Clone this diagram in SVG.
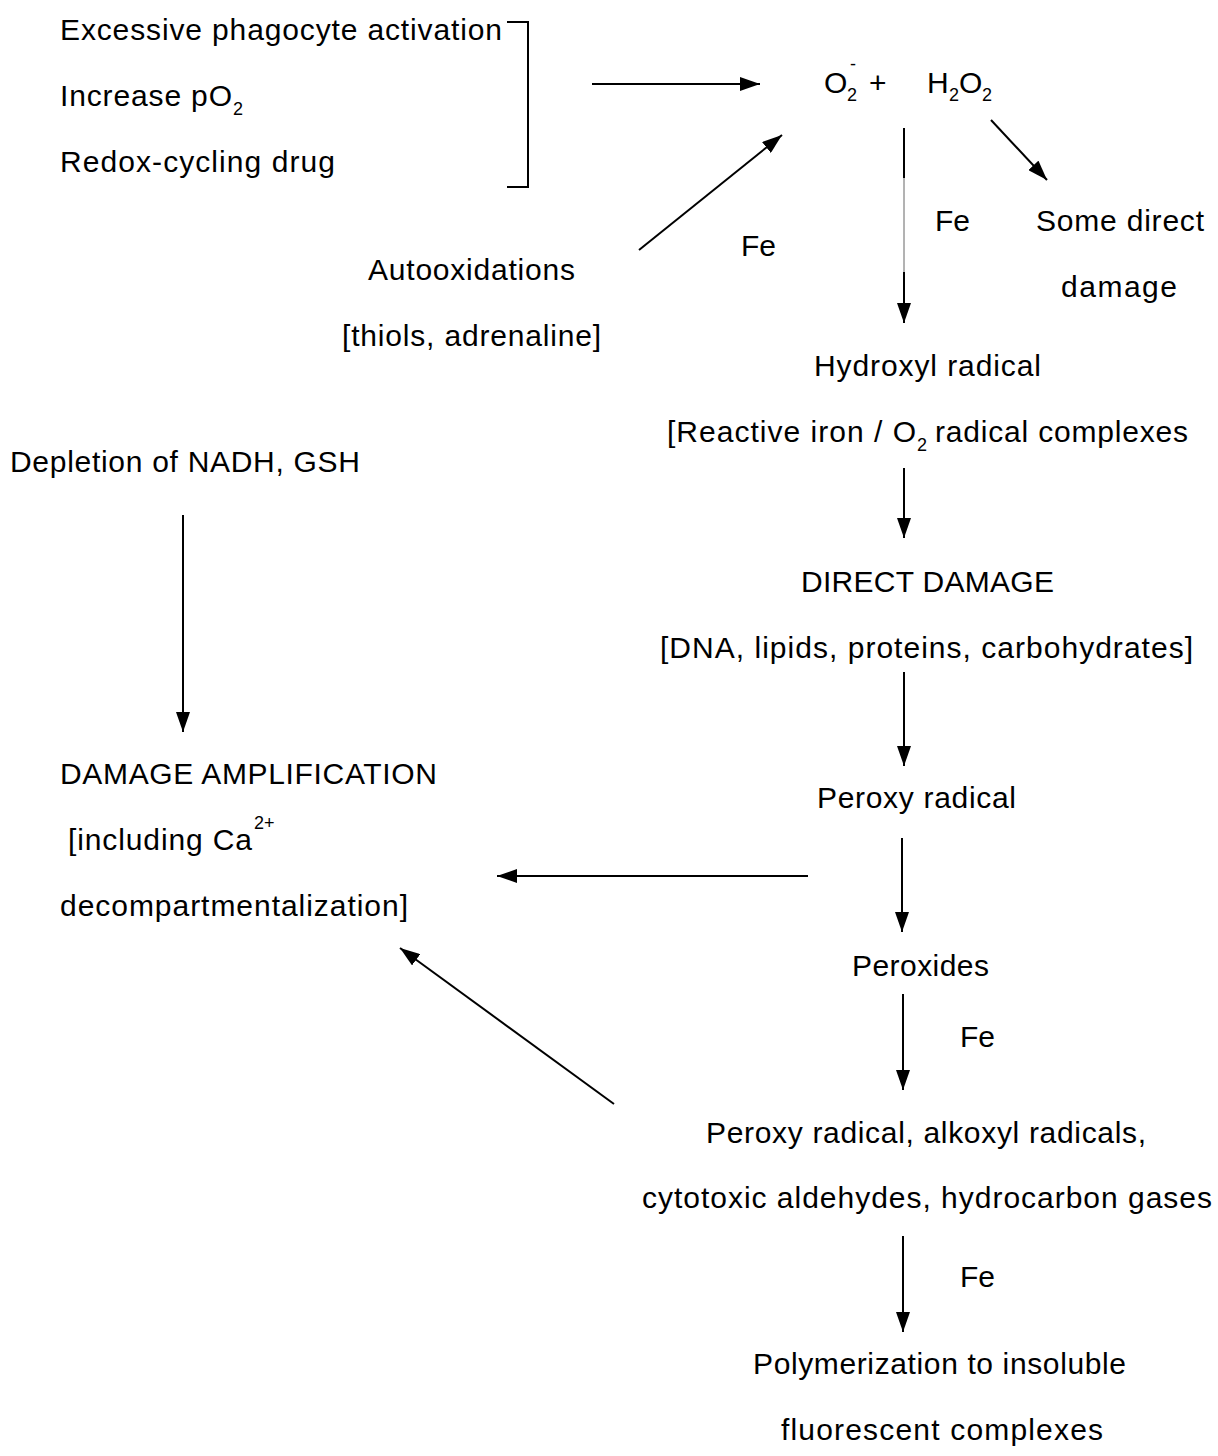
<svg xmlns="http://www.w3.org/2000/svg" width="1218" height="1456" viewBox="0 0 1218 1456">
<style>
.t{font-family:"Liberation Sans",Arial,sans-serif;font-size:30px;fill:#000}
.s{font-family:"Liberation Sans",Arial,sans-serif;font-size:18px;fill:#000}
.c{stroke:#000;stroke-width:2;fill:none}
.a{stroke:#000;stroke-width:2;fill:none;marker-end:url(#ah)}
</style>
<defs>
<marker id="ah" markerWidth="20" markerHeight="14" refX="20" refY="7" orient="auto" markerUnits="userSpaceOnUse"><path d="M0,0 L20,7 L0,14 z" fill="#000"/></marker>
</defs>
<rect width="1218" height="1456" fill="#fff"/>
<g id="n-sources">
<text class="t" x="60" y="40" textLength="442" lengthAdjust="spacing">Excessive phagocyte activation</text>
<text class="t" x="60" y="106" textLength="172" lengthAdjust="spacing">Increase pO</text>
<text class="s" x="233" y="115">2</text>
<text class="t" x="60" y="172" textLength="275" lengthAdjust="spacing">Redox-cycling drug</text>
</g>
<g id="n-o2">
<text class="t" x="824" y="93">O</text>
<text class="s" x="847" y="101">2</text>
<text class="s" x="850" y="70">-</text>
<text class="t" x="869" y="93">+</text>
<text class="t" x="927" y="93">H</text>
<text class="s" x="949" y="101">2</text>
<text class="t" x="959" y="93">O</text>
<text class="s" x="982" y="101">2</text>
</g>
<g id="n-autoox">
<text class="t" x="368" y="280" textLength="207" lengthAdjust="spacing">Autooxidations</text>
<text class="t" x="342" y="346" textLength="259" lengthAdjust="spacing">[thiols, adrenaline]</text>
</g>
<g id="n-somedirect">
<text class="t" x="1036" y="231" textLength="168" lengthAdjust="spacing">Some direct</text>
<text class="t" x="1061" y="297" textLength="116" lengthAdjust="spacing">damage</text>
</g>
<g id="n-hydroxyl">
<text class="t" x="814" y="376" textLength="227" lengthAdjust="spacing">Hydroxyl radical</text>
<text class="t" x="667" y="442" textLength="249" lengthAdjust="spacing">[Reactive iron / O</text>
<text class="s" x="917" y="451">2</text>
<text class="t" x="935" y="442" textLength="253" lengthAdjust="spacing">radical complexes</text>
</g>
<g id="n-directdamage">
<text class="t" x="801" y="592" textLength="253" lengthAdjust="spacing">DIRECT DAMAGE</text>
<text class="t" x="660" y="658" textLength="533" lengthAdjust="spacing">[DNA, lipids, proteins, carbohydrates]</text>
</g>
<g id="n-peroxy">
<text class="t" x="817" y="808" textLength="199" lengthAdjust="spacing">Peroxy radical</text>
</g>
<g id="n-peroxides">
<text class="t" x="852" y="976" textLength="137" lengthAdjust="spacing">Peroxides</text>
</g>
<g id="n-products">
<text class="t" x="706" y="1143" textLength="440" lengthAdjust="spacing">Peroxy radical, alkoxyl radicals,</text>
<text class="t" x="642" y="1208" textLength="570" lengthAdjust="spacing">cytotoxic aldehydes, hydrocarbon gases</text>
</g>
<g id="n-polymer">
<text class="t" x="753" y="1374" textLength="373" lengthAdjust="spacing">Polymerization to insoluble</text>
<text class="t" x="781" y="1440" textLength="322" lengthAdjust="spacing">fluorescent complexes</text>
</g>
<g id="n-depletion">
<text class="t" x="10" y="472" textLength="350" lengthAdjust="spacing">Depletion of NADH, GSH</text>
</g>
<g id="n-amplification">
<text class="t" x="60" y="784" textLength="377" lengthAdjust="spacing">DAMAGE AMPLIFICATION</text>
<text class="t" x="68" y="850" textLength="184" lengthAdjust="spacing">[including Ca</text>
<text class="s" x="254" y="829">2+</text>
<text class="t" x="60" y="916" textLength="348" lengthAdjust="spacing">decompartmentalization]</text>
</g>
<g id="labels">
<text class="t" x="741" y="256">Fe</text>
<text class="t" x="935" y="231">Fe</text>
<text class="t" x="960" y="1047">Fe</text>
<text class="t" x="960" y="1287">Fe</text>
</g>
<g id="connectors">
<path class="c" d="M507,22 H528 V187 H507"/>
<line class="a" x1="592" y1="84" x2="760" y2="84"/>
<line class="a" x1="639" y1="250" x2="782" y2="135"/>
<line class="a" x1="991" y1="120" x2="1047" y2="180"/>
<line class="c" x1="904" y1="128" x2="904" y2="178"/>
<line x1="904" y1="178" x2="904" y2="272" stroke="#666" stroke-width="1"/>
<line class="a" x1="904" y1="272" x2="904" y2="323"/>
<line class="a" x1="904" y1="468" x2="904" y2="538"/>
<line class="a" x1="904" y1="672" x2="904" y2="766"/>
<line class="a" x1="902" y1="838" x2="902" y2="932"/>
<line class="a" x1="903" y1="994" x2="903" y2="1090"/>
<line class="a" x1="903" y1="1236" x2="903" y2="1332"/>
<line class="a" x1="183" y1="515" x2="183" y2="732"/>
<line class="a" x1="808" y1="876" x2="497" y2="876"/>
<line class="a" x1="614" y1="1104" x2="400" y2="948"/>
</g>
</svg>
